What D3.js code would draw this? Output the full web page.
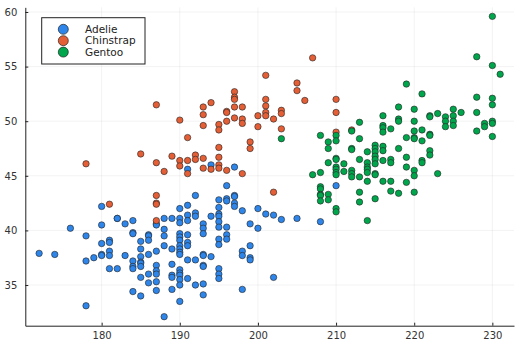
<!DOCTYPE html>
<html>
<head>
<meta charset="utf-8">
<script src="https://cdn.jsdelivr.net/npm/d3@7"></script>
<style>
  body { margin: 0; background: #fff; }
  text { font-family: "DejaVu Sans", sans-serif; }
</style>
</head>
<body>
<div id="plot"></div>
<script>
// svg size
var width = 521;
var height = 351;

// species names and colours
var species = ["Adelie", "Chinstrap", "Gentoo"];
var colors = ["#2E86EB", "#E45F36", "#00A64C"];

// flipper length (x) and bill length (y)
var adelieFlipper = [172,174,176,178,178,178,179,180,180,180,180,180,181,181,181,181,181,182,182,182,183,183,
  184,184,184,184,184,184,184,185,185,185,185,185,185,185,185,186,186,186,186,186,186,
  187,187,187,187,187,187,187,187,188,188,188,188,188,189,189,189,189,189,189,
  190,190,190,190,190,190,190,190,190,190,190,190,190,190,190,190,
  191,191,191,191,191,191,191,191,191,192,192,192,192,192,193,193,193,193,193,193,193,193,193,
  194,194,194,195,195,195,195,195,195,195,195,195,195,195,196,196,196,196,196,196,
  197,197,197,197,197,198,198,198,198,199,199,199,199,200,200,201,202,202,203,205,208,210];
var adelieBill = [37.9,37.8,40.2,39.5,37.2,33.1,37.5,42.2,40.5,38.8,37.8,37.7,39.1,38.9,38.1,37.7,36.5,41.1,41.1,36.5,40.6,37.7,
  40.9,39.8,39.7,37.2,36.7,36.5,34.4,39.0,38.3,37.6,37.1,37.0,36.7,35.7,34.0,39.6,39.5,39.1,37.8,36.0,35.2,
  40.6,40.5,38.1,36.8,36.3,36.0,35.3,34.5,41.1,40.1,39.5,38.6,32.1,41.1,38.3,36.9,35.9,35.7,34.6,
  42.0,41.1,40.7,39.7,39.4,39.1,38.6,38.3,38.0,37.8,36.4,36.1,35.9,35.5,35.0,33.5,
  45.6,42.3,41.4,40.9,39.6,38.9,38.6,37.3,35.6,43.2,41.6,41.3,37.3,35.0,40.6,40.2,39.7,37.8,37.7,36.8,36.7,35.1,34.1,
  46.0,41.3,37.6,42.8,42.1,41.5,41.3,40.8,40.3,39.2,38.7,36.5,36.0,35.6,44.1,42.9,42.7,40.3,39.6,39.2,
  45.8,43.2,43.1,42.5,42.2,41.8,38.1,37.7,34.6,40.6,38.6,37.5,37.3,42.0,40.2,41.5,41.4,35.7,41.0,41.1,40.8,44.1];

var chinstrapFlipper = [178,181,185,187,187,187,187,187,187,188,189,190,190,190,191,191,191,192,192,
  193,193,193,193,193,194,194,195,195,195,195,195,195,196,196,196,196,197,197,197,197,197,
  198,198,198,198,199,199,200,200,201,201,201,201,201,202,202,203,203,203,205,205,206,207,210,210,210,212];
var chinstrapBill = [46.1,42.4,47.0,51.5,46.2,43.2,42.5,42.4,40.9,45.4,46.8,50.1,46.4,45.9,48.5,46.4,45.2,46.9,46.5,
  51.3,50.6,49.6,46.6,45.7,51.7,45.6,49.7,49.2,47.6,46.7,46.0,45.7,50.9,50.8,50.0,45.5,52.7,52.2,52.0,51.3,50.3,
  51.3,50.2,49.8,45.2,48.1,47.5,50.5,49.5,54.2,52.0,51.4,50.8,50.5,50.2,43.5,51.0,50.7,49.3,53.5,52.8,51.9,55.8,52.0,50.8,49.0,49.2];

var gentooFlipper = [203,207,208,208,208,208,208,208,208,209,209,209,209,209,
  210,210,210,210,210,210,210,210,210,210,211,211,212,212,212,212,212,212,213,213,213,213,213,213,
  214,214,214,214,214,214,214,215,215,215,215,215,215,215,215,215,216,216,216,216,216,216,216,216,
  217,217,217,217,217,218,218,218,218,218,219,219,219,219,219,220,220,220,220,220,220,220,220,
  221,221,221,221,221,222,222,222,222,222,222,223,223,224,224,224,225,225,225,225,226,
  228,228,228,228,229,229,230,230,230,230,230,230,230,231];
var gentooBill = [48.4,45.1,48.7,45.3,44.0,43.8,43.3,43.2,42.7,48.1,47.5,46.2,43.3,42.8,
  48.7,48.2,46.6,46.5,45.8,45.6,45.3,45.1,42.0,41.7,46.1,45.4,49.1,47.5,47.4,45.5,45.2,44.9,49.9,48.4,46.5,44.9,43.5,42.6,
  47.2,46.2,45.8,45.6,45.3,44.5,40.9,47.8,47.5,47.2,46.8,46.5,46.1,45.2,45.1,42.9,50.5,49.6,49.4,49.0,47.7,47.3,46.4,44.5,
  49.3,46.5,46.2,44.5,43.6,51.3,50.2,50.0,47.5,43.4,53.4,48.5,46.7,45.8,44.4,51.1,50.0,49.1,48.5,48.4,45.5,45.0,43.5,
  52.5,49.2,48.2,46.4,46.2,50.5,50.4,48.8,48.7,47.3,46.9,50.7,45.2,50.4,50.0,49.5,51.1,50.5,50.0,49.6,50.8,
  55.9,52.2,50.8,49.1,49.8,49.5,59.6,55.1,52.1,51.5,50.0,49.8,48.6,54.3];

// tick values
var xTicks = [180, 190, 200, 210, 220, 230];
var yTicks = [35, 40, 45, 50, 55, 60];

var flippers = [adelieFlipper, chinstrapFlipper, gentooFlipper];
var bills = [adelieBill, chinstrapBill, gentooBill];

// plot area
var plotLeft = 25.3, plotRight = 514, plotTop = 7.35, plotBottom = 325.7;

var svg = d3.select("#plot")
  .append("svg")
  .attr("width", width)
  .attr("height", height);

var x = d3.scaleLinear().domain([170.23, 232.77]).range([plotLeft, plotRight]);
var y = d3.scaleLinear().domain([31.275, 60.425]).range([plotBottom, plotTop]);

// grid
svg.append("g").selectAll("line")
  .data(xTicks)
  .enter()
  .append("line")
  .attr("x1", function(d) { return x(d); })
  .attr("x2", function(d) { return x(d); })
  .attr("y1", plotTop)
  .attr("y2", plotBottom)
  .attr("stroke", "#000")
  .attr("stroke-opacity", 0.1)
  .attr("stroke-width", 0.5);

svg.append("g").selectAll("line")
  .data(yTicks)
  .enter()
  .append("line")
  .attr("x1", plotLeft)
  .attr("x2", plotRight)
  .attr("y1", function(d) { return y(d); })
  .attr("y2", function(d) { return y(d); })
  .attr("stroke", "#000")
  .attr("stroke-opacity", 0.1)
  .attr("stroke-width", 0.5);

// axes, ticks point inward
var xAxis = d3.axisBottom(x).tickValues(xTicks).tickSizeInner(-3).tickSizeOuter(0).tickPadding(6.2);
var yAxis = d3.axisLeft(y).tickValues(yTicks).tickSizeInner(-3).tickSizeOuter(0).tickPadding(8);

var gx = svg.append("g").attr("transform", "translate(0," + plotBottom + ")").call(xAxis);
var gy = svg.append("g").attr("transform", "translate(" + plotLeft + ",0)").call(yAxis);

[gx, gy].forEach(function(g) {
  g.selectAll("path").attr("stroke", "#222").attr("stroke-width", 1);
  g.selectAll("line").attr("stroke", "#222");
  g.selectAll("text")
    .attr("font-size", 10)
    .attr("font-family", "DejaVu Sans, sans-serif")
    .attr("fill", "#333");
});

// points, one group per species
species.forEach(function(name, k) {
  svg.append("g").selectAll("circle")
    .data(flippers[k])
    .enter()
    .append("circle")
    .attr("cx", function(d) { return x(d); })
    .attr("cy", function(d, i) { return y(bills[k][i]); })
    .attr("r", 3.2)
    .attr("fill", colors[k])
    .attr("stroke", "#222")
    .attr("stroke-width", 0.6);
});

// legend
var legend = svg.append("g");
legend.append("rect")
  .attr("x", 41.7)
  .attr("y", 17.7)
  .attr("width", 103.3)
  .attr("height", 46.3)
  .attr("fill", "#fff")
  .attr("stroke", "#222")
  .attr("stroke-width", 1);

legend.selectAll("circle")
  .data(species)
  .enter()
  .append("circle")
  .attr("cx", 63.3)
  .attr("cy", function(d, i) { return 29.3 + i * 11.4; })
  .attr("r", 5)
  .attr("fill", function(d, i) { return colors[i]; })
  .attr("stroke", "#222")
  .attr("stroke-width", 0.7);

legend.selectAll("text")
  .data(species)
  .enter()
  .append("text")
  .text(function(d) { return d; })
  .attr("x", 85)
  .attr("y", function(d, i) { return 29.3 + i * 11.4; })
  .attr("dy", "0.35em")
  .attr("font-size", 10.5)
  .attr("fill", "#222");
</script>
</body>
</html>
